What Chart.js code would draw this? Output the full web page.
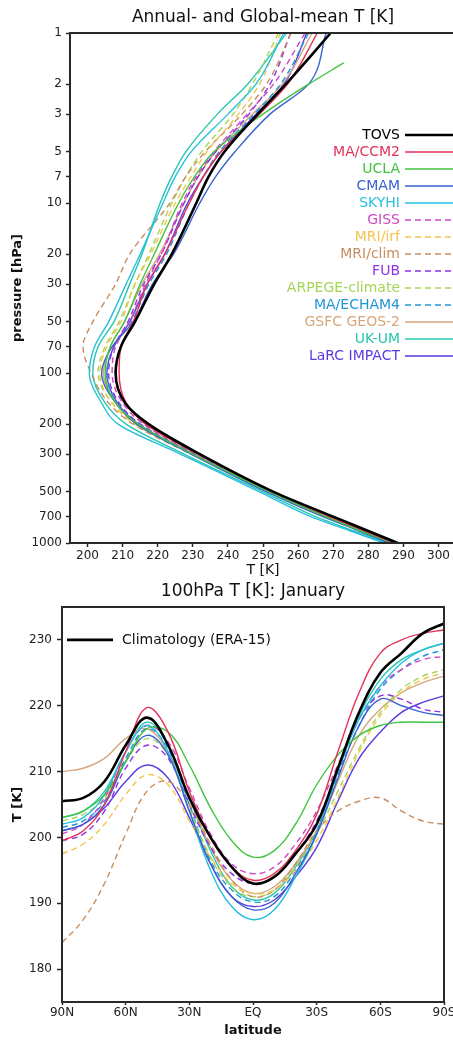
<!DOCTYPE html>
<html>
<head>
<meta charset="utf-8">
<title>Annual- and Global-mean T / 100hPa T January</title>
<script src="https://cdn.jsdelivr.net/npm/chart.js@4.4.1/dist/chart.umd.min.js"></script>
<style>
  html, body { margin: 0; padding: 0; background: #fff; overflow: hidden; }
  #wrap { position: relative; width: 453px; height: 1041px; overflow: hidden; }
  #profile { position: absolute; left: 0; top: 0; }
  #lat100 { position: absolute; left: 0; top: 580px; }
</style>
</head>
<body>
<div id="wrap">
  <canvas id="profile" width="456" height="580"></canvas>
  <canvas id="lat100" width="460" height="461"></canvas>
</div>
<script>
"use strict";

// ---- data: top panel (annual, global mean T [K] per pressure level [hPa]) ----
const pressureLevels = [1, 1.5, 2, 3, 5, 7, 10, 20, 30, 50, 70, 100, 150, 200, 300, 500, 700, 850, 1000];
const pressureTicks = [1, 2, 3, 5, 7, 10, 20, 30, 50, 70, 100, 200, 300, 500, 700, 1000];
const tempTicks = [200, 210, 220, 230, 240, 250, 260, 270, 280, 290, 300];

const tovsProfile    = [269.3, null, 256.5, 248.5, 239, 234.5, 231, 224, 219, 213.5, 209.5, 208, 210.7, 217.4, 232, 253, 270, 280, 288.4];
const ccm2Profile    = [265.5, null, 257, 249, 238, 233, 229, 222, 217, 213, 209.5, 209, 211, 216.5, 231.5, 253, 269, 279, 287.5];
const uclaProfile    = [null, 273, 263, 250, 236, 230.5, 226, 219, 215, 210.5, 206.5, 205, 208, 214.5, 230, 252, 268, 278, 287];
const cmamProfile    = [268, null, 263, 252, 242, 236.5, 232, 224.5, 218.5, 213, 207, 204, 208, 214, 229.5, 251, 267, 277.5, 286];
const skyhiProfile   = [255.9, null, 248, 240, 229.5, 225, 221.5, 215, 211, 206, 202, 200.5, 204, 208.7, 226.5, 249, 263.6, 275, 284.5];
const gissProfile    = [262, null, 253, 245.5, 236, 231, 227, 221, 216.5, 212, 208, 207, 210, 216, 231, 252.5, 269, 279, 287.5];
const mriIrfProfile  = [255, null, 249, 243, 234, 229.5, 225, 218, 213.5, 209.5, 205.5, 203.5, 207, 214, 230, 252, 268, 278, 287];
const mriClimProfile = [258, null, 251, 244, 233.5, 228, 223.5, 212, 208, 201.5, 198.7, 201, 206, 213, 229.5, 252, 268, 278, 287];
const fubProfile     = [257.9, null, 252, 246, 236.5, 231.5, 227.5, 221, 216, 211.5, 207.5, 206, 209, 215, 230.5, 252.5, 268.5, 278.5, 287];
const arpegeProfile  = [254.4, null, 247, 241.5, 232.5, 228, 224, 217.5, 213.5, 209, 205, 203, 207, 213.5, 230, 252, 268, 278, 287];
const echam4Profile  = [263, null, 255, 247.5, 237.5, 233, 229, 222.5, 217.5, 212.5, 207.5, 205.5, 208.5, 215, 230.5, 252.5, 268.5, 279, 287.5];
const gsfcProfile    = [264, null, 255.5, 247, 236.5, 231.5, 227.5, 220.5, 215.5, 210.5, 206.5, 204.5, 208, 214, 230, 252, 268, 278, 287];
const ukumProfile    = [256.7, null, 245.6, 237, 228, 224, 220.7, 215.5, 212, 207.5, 203, 201.5, 205, 211, 227.5, 250, 265, 276, 285.5];
const larcProfile    = [262.5, null, 256, 248, 238, 233, 228.5, 222, 217, 212, 207.5, 205.5, 208.5, 214.5, 230, 252, 268, 278, 287];

// ---- data: bottom panel (100 hPa T [K] in January per latitude) ----
const latitudes = [90, 80, 70, 60, 50, 40, 30, 20, 10, 0, -10, -20, -30, -40, -50, -60, -70, -80, -90];
const latTicks = [90, 60, 30, 0, -30, -60, -90];
const latTickLabels = ['90N', '60N', '30N', 'EQ', '30S', '60S', '90S'];
const t100Ticks = [180, 190, 200, 210, 220, 230];

const era15Jan    = [205.5, 206, 208.5, 214, 218.2, 214, 206, 200, 195.5, 193, 194, 197.5, 202, 210.5, 219, 225, 228, 231, 232.5];
const ccm2Jan     = [199.5, 201, 205, 213, 219.7, 216, 207, 200, 195.5, 193.5, 194.5, 198, 203.5, 213, 222, 228, 230, 231, 231.5];
const uclaJan     = [203, 204, 206.5, 211.5, 216.5, 216, 211, 204.5, 199.5, 197, 198, 202, 208, 212.5, 215.5, 217, 217.5, 217.5, 217.5];
const cmamJan     = [201, 202, 205, 211.5, 215.5, 212.5, 204, 196, 191, 189, 190, 194.5, 200.5, 209, 217, 221, 220, 219, 218.5];
const skyhiJan    = [202, 203, 206.5, 213, 217, 213, 204, 195, 189.5, 187.5, 189, 194, 200.5, 210, 218, 223, 226.5, 228.5, 229.5];
const gissJan     = [200.5, 202, 206, 213, 217, 214.5, 207.5, 200.5, 196, 194.5, 195.5, 199, 204, 211, 218, 223, 225.5, 227, 227.5];
const mriIrfJan   = [197.5, 199, 202, 206.5, 209.5, 208, 202.5, 197, 193, 191.5, 192, 195, 199.5, 206, 213, 218.5, 222, 224, 225];
const mriClimJan  = [184, 187.5, 193, 200.5, 207, 208.5, 205, 199, 193.5, 191, 192, 196, 201, 204, 205.5, 206, 204, 202.5, 202];
const fubJan      = [199.5, 200.5, 204, 210.5, 214, 212, 205, 198.5, 194.5, 193, 194, 197.5, 202.5, 210, 218, 221.5, 221, 219.5, 219];
const arpegeJan   = [202.5, 203.5, 206, 211.5, 215, 212.5, 204.5, 197, 192.5, 191, 192, 195.5, 200.5, 207, 213.5, 219, 222.5, 224.5, 225.5];
const echam4Jan   = [201.5, 202.5, 205.5, 212, 216.5, 213.5, 205, 196.5, 192, 190.2, 191, 195, 201, 209.5, 217, 222.5, 225.5, 227.5, 228.5];
const gsfcJan     = [210, 210.5, 212, 215, 216.5, 213, 206, 198.5, 193.5, 191.5, 192.5, 196, 201, 208.5, 215.5, 219.5, 222, 223.5, 224.5];
const ukumJan     = [203, 204, 207, 213, 217.5, 214, 206, 198, 192.5, 190.5, 191.5, 195.5, 201, 210, 218.5, 224, 227, 228.5, 229.5];
const larcJan     = [201, 202, 204.5, 208.5, 211, 209, 203, 196, 191, 189.5, 190.5, 194, 198.5, 205.5, 212, 216, 219, 220.5, 221.5];

const modelNames = ['MA/CCM2', 'UCLA', 'CMAM', 'SKYHI', 'GISS', 'MRI/irf', 'MRI/clim', 'FUB',
                    'ARPEGE-climate', 'MA/ECHAM4', 'GSFC GEOS-2', 'UK-UM', 'LaRC IMPACT'];

// ---- styles ----
const modelColors = ['#e33259', '#3fc43f', '#3a62d0', '#26bfe0', '#d046c6', '#f0c64e', '#c88e60', '#8f32e6',
                     '#a6d656', '#2196d6', '#d6a77e', '#26c7ae', '#5a3ae0'];
const modelDashed = [false, false, false, false, true, true, true, true, true, true, false, false, false];
const FONT = "'DejaVu Sans', sans-serif";
const AXIS = '#2a2a2a';

Chart.defaults.font.family = FONT;
Chart.defaults.color = '#222';

const profileSeries = [tovsProfile, ccm2Profile, uclaProfile, cmamProfile, skyhiProfile, gissProfile, mriIrfProfile,
                       mriClimProfile, fubProfile, arpegeProfile, echam4Profile, gsfcProfile, ukumProfile, larcProfile];
const janSeries = [era15Jan, ccm2Jan, uclaJan, cmamJan, skyhiJan, gissJan, mriIrfJan,
                   mriClimJan, fubJan, arpegeJan, echam4Jan, gsfcJan, ukumJan, larcJan];

function lineStyle(i) {
  return {
    borderColor: i === 0 ? '#000' : modelColors[i - 1],
    borderWidth: i === 0 ? 2.6 : 1.4,
    borderDash: i > 0 && modelDashed[i - 1] ? [6, 4] : [],
    pointRadius: 0,
    fill: false
  };
}

const profileDatasets = profileSeries.map((vals, i) => Object.assign({
  label: i === 0 ? 'TOVS' : modelNames[i - 1],
  data: pressureLevels.map((p, k) => ({ x: vals[k], y: p })).filter(pt => pt.x !== null),
  cubicInterpolationMode: 'monotone'
}, lineStyle(i)));

const janDatasets = janSeries.map((vals, i) => Object.assign({
  label: i === 0 ? 'Climatology (ERA-15)' : modelNames[i - 1],
  data: latitudes.map((lat, k) => ({ x: lat, y: vals[k] })),
  tension: 0.4
}, lineStyle(i)));

// box round the plot area
const frameBox = {
  id: 'frameBox',
  afterDatasetsDraw(chart) {
    const { ctx, chartArea: a } = chart;
    ctx.save();
    ctx.strokeStyle = AXIS;
    ctx.lineWidth = 2;
    ctx.strokeRect(a.left, a.top, a.right - a.left, a.bottom - a.top);
    ctx.restore();
  }
};

// panel title centred over the plot area, like GrADS does
const panelTitle = {
  id: 'panelTitle',
  afterDraw(chart, args, opts) {
    const { ctx, chartArea: a } = chart;
    ctx.save();
    ctx.fillStyle = '#111';
    ctx.font = '17px ' + FONT;
    ctx.textAlign = 'center';
    ctx.textBaseline = 'middle';
    ctx.fillText(opts.text, (a.left + a.right) / 2, opts.y);
    ctx.restore();
  }
};

// GrADS-like legend: label right-aligned, line sample on its right
const profileLegend = {
  id: 'profileLegend',
  afterDatasetsDraw(chart) {
    const { ctx, chartArea: a } = chart;
    ctx.save();
    ctx.font = '14px ' + FONT;
    ctx.textAlign = 'right';
    ctx.textBaseline = 'middle';
    chart.data.datasets.forEach((ds, i) => {
      const y = a.top + 102 + i * 17;
      const x = a.right - 56;
      ctx.fillStyle = ds.borderColor;
      ctx.fillText(ds.label, x, y);
      ctx.strokeStyle = ds.borderColor;
      ctx.lineWidth = ds.borderWidth;
      ctx.setLineDash(ds.borderDash);
      ctx.beginPath();
      ctx.moveTo(x + 5, y);
      ctx.lineTo(a.right, y);
      ctx.stroke();
    });
    ctx.restore();
  }
};

const climLegend = {
  id: 'climLegend',
  afterDatasetsDraw(chart) {
    const { ctx, chartArea: a } = chart;
    const ds = chart.data.datasets[0];
    const y = chart.scales.y.getPixelForValue(230);
    ctx.save();
    ctx.strokeStyle = ds.borderColor;
    ctx.lineWidth = ds.borderWidth;
    ctx.beginPath();
    ctx.moveTo(a.left + 5, y);
    ctx.lineTo(a.left + 51, y);
    ctx.stroke();
    ctx.fillStyle = '#111';
    ctx.font = '14px ' + FONT;
    ctx.textBaseline = 'middle';
    ctx.fillText(ds.label, a.left + 60, y);
    ctx.restore();
  }
};

function tickGrid(len) {
  return { drawOnChartArea: false, drawTicks: true, tickLength: len, tickColor: AXIS, tickWidth: 1.5 };
}

new Chart(document.getElementById('profile'), {
  type: 'line',
  data: { datasets: profileDatasets },
  options: {
    responsive: false,
    animation: false,
    events: [],
    indexAxis: 'y',
    layout: { padding: { top: 33 } },
    plugins: {
      legend: { display: false },
      tooltip: { enabled: false },
      title: { display: false },
      panelTitle: { text: 'Annual- and Global-mean T [K]', y: 18 }
    },
    scales: {
      x: {
        type: 'linear',
        min: 195,
        max: 305,
        afterBuildTicks: s => { s.ticks = tempTicks.map(v => ({ value: v })); },
        afterFit: s => { s.height = 37; },
        grid: tickGrid(4),
        border: { display: false },
        ticks: { font: { size: 12 }, padding: 2, maxRotation: 0, autoSkip: false },
        title: { display: true, text: 'T [K]', color: '#111', font: { size: 14 }, padding: { top: 0, bottom: 1 } }
      },
      y: {
        type: 'logarithmic',
        reverse: true,
        min: 1,
        max: 1000,
        afterBuildTicks: s => { s.ticks = pressureTicks.map(v => ({ value: v })); },
        afterFit: s => { s.width = 70; },
        grid: tickGrid(4),
        border: { display: false },
        ticks: { font: { size: 12 }, padding: 4, autoSkip: false, callback: v => String(v) },
        title: { display: true, text: 'pressure [hPa]', color: '#111', font: { size: 13, weight: 'bold' }, padding: { top: 10, bottom: 0 } }
      }
    }
  },
  plugins: [frameBox, profileLegend, panelTitle]
});

new Chart(document.getElementById('lat100'), {
  type: 'line',
  data: { datasets: janDatasets },
  options: {
    responsive: false,
    animation: false,
    events: [],
    layout: { padding: { top: 27, right: 16 } },
    plugins: {
      legend: { display: false },
      tooltip: { enabled: false },
      title: { display: false },
      panelTitle: { text: '100hPa T [K]: January', y: 12 }
    },
    scales: {
      x: {
        type: 'linear',
        reverse: true,
        min: -90,
        max: 90,
        afterBuildTicks: s => { s.ticks = latTicks.map(v => ({ value: v })); },
        afterFit: s => { s.height = 39; },
        grid: tickGrid(3),
        border: { display: false },
        ticks: {
          font: { size: 12 }, padding: 1, maxRotation: 0, autoSkip: false,
          callback: v => latTickLabels[latTicks.indexOf(v)]
        },
        title: { display: true, text: 'latitude', color: '#111', font: { size: 13, weight: 'bold' }, padding: { top: 0, bottom: 3 } }
      },
      y: {
        type: 'linear',
        min: 175,
        max: 235,
        afterBuildTicks: s => { s.ticks = t100Ticks.map(v => ({ value: v })); },
        afterFit: s => { s.width = 62; },
        grid: tickGrid(5),
        border: { display: false },
        ticks: { font: { size: 12 }, padding: 5, autoSkip: false },
        title: { display: true, text: 'T [K]', color: '#111', font: { size: 13, weight: 'bold' }, padding: { top: 10, bottom: 0 } }
      }
    }
  },
  plugins: [frameBox, climLegend, panelTitle]
});
</script>
</body>
</html>
